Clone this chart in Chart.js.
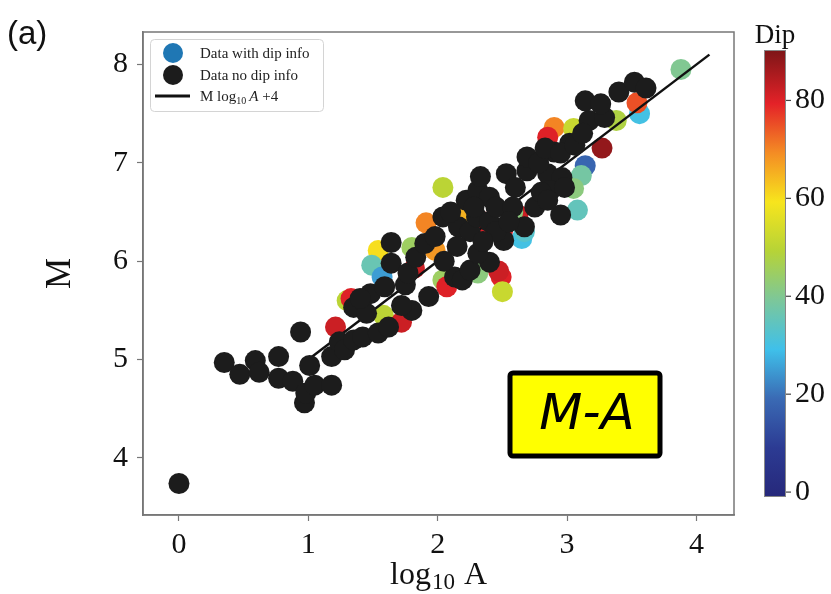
<!DOCTYPE html>
<html>
<head>
<meta charset="utf-8">
<script src="https://cdn.jsdelivr.net/npm/chart.js@4.4.1/dist/chart.umd.min.js"></script>
<style>
  html, body { margin: 0; padding: 0; background: #fff; }
</style>
</head>
<body>
<canvas id="myChart" width="831" height="594"></canvas>
<script>
// tick values
const xTicks = [0, 1, 2, 3, 4]
const yTicks = [4, 5, 6, 7, 8]
const dipTicks = [0, 20, 40, 60, 80]

// events without dip information (log10 A, M)
const blackLogA = [0.00, 0.35, 0.47, 0.59, 0.62, 0.77, 0.77, 0.88, 0.94, 1.01, 0.97, 0.98, 1.05, 1.18, 1.18,
    1.24, 1.28, 1.35, 1.42, 1.54, 1.62, 1.35, 1.45, 1.48, 1.59, 1.40, 1.64, 1.64, 1.75, 1.77, 1.80, 1.72,
    1.83, 1.90, 1.93, 1.98, 2.04, 2.13, 2.19, 2.25, 2.40, 2.31, 2.16, 2.25, 2.51, 2.67, 2.95, 2.22, 2.31,
    2.40, 2.53, 2.69, 2.69, 2.85, 2.96, 2.87, 2.90, 3.02, 3.17, 3.29, 3.14, 3.26, 3.40, 3.52, 3.61,
    2.10, 2.30, 2.40, 2.45, 2.58, 2.75, 2.80, 2.60, 2.45, 2.35, 2.55, 2.15, 2.05, 2.28, 2.78, 2.83, 2.95,
    3.06, 2.98, 2.85, 3.12, 2.33]
const blackM = [3.74, 4.97, 4.85, 4.99, 4.87, 5.03, 4.81, 4.78, 5.28, 4.94, 4.56, 4.66, 4.74, 4.74, 5.03,
    5.18, 5.10, 5.20, 5.23, 5.27, 5.33, 5.53, 5.47, 5.67, 5.74, 5.62, 5.98, 6.19, 5.76, 5.88, 5.50, 5.55,
    6.04, 6.18, 5.64, 6.25, 6.45, 5.84, 5.81, 5.91, 5.99, 6.08, 6.35, 6.30, 6.21, 6.35, 6.47, 6.62, 6.72,
    6.65, 6.89, 6.92, 7.06, 6.89, 6.85, 6.72, 7.11, 7.20, 7.43, 7.46, 7.63, 7.60, 7.72, 7.82, 7.76,
    6.50, 6.45, 6.40, 6.55, 6.55, 6.55, 6.70, 6.75, 6.30, 6.20, 6.40, 6.15, 6.00, 6.55, 7.00, 7.15, 7.10,
    7.18, 6.75, 6.62, 7.30, 6.86]

// events with dip information (log10 A, M, dip in degrees)
const dipLogA = [3.88, 3.56, 3.54, 3.27, 3.14, 3.11, 3.05, 3.08, 2.04, 2.90, 2.85, 3.05, 2.65, 2.67,
    2.49, 2.47, 2.50, 2.31, 2.04, 2.07, 1.91, 1.98, 1.54, 1.49, 1.57, 1.80, 1.82, 1.30, 1.33, 1.58,
    1.72, 1.21, 2.62, 2.58, 3.38, 2.35, 2.18, 2.50]
const dipM = [7.95, 7.50, 7.61, 7.15, 6.97, 6.87, 6.74, 6.52, 6.75, 7.36, 7.26, 7.35, 6.23, 6.30,
    5.84, 5.90, 5.69, 5.88, 5.81, 5.74, 6.39, 6.11, 6.11, 5.96, 5.84, 6.14, 5.93, 5.60, 5.62, 5.45,
    5.38, 5.33, 6.47, 6.50, 7.43, 6.40, 6.45, 6.30]
const dipValue = [40, 30, 75, 88, 18, 38, 42, 35, 50, 70, 80, 52, 30, 33,
    80, 82, 52, 42, 45, 80, 70, 68, 60, 36, 25, 45, 82, 50, 80, 50,
    82, 82, 82, 42, 48, 80, 65, 80]

// reference line M = log10 A + 4
const fitLogA = [1.0, 4.1]
const fitM = [5.0, 8.1]

const dipMin = -1
const dipMax = 90.3

// colour stops
const cmapStops = [
    [0.00, '#26287a'], [0.11, '#2c3b93'], [0.22, '#3a6ab4'], [0.33, '#3fc0ea'],
    [0.44, '#7cc79a'], [0.55, '#b6d337'], [0.66, '#f7e51d'], [0.77, '#f48c24'],
    [0.88, '#e42228'], [1.00, '#7d1517']
]

const hexToRgb = (h) => [1, 3, 5].map(i => parseInt(h.substr(i, 2), 16))

const dipColor = (d) => {
    let t = (d - dipMin) / (dipMax - dipMin)
    t = Math.max(0, Math.min(1, t))
    for (let i = 1; i < cmapStops.length; i++) {
        if (t <= cmapStops[i][0]) {
            const [t0, c0] = cmapStops[i - 1]
            const [t1, c1] = cmapStops[i]
            const f = (t - t0) / (t1 - t0)
            const a = hexToRgb(c0), b = hexToRgb(c1)
            const c = a.map((v, k) => Math.round(v + (b[k] - v) * f))
            return `rgb(${c[0]},${c[1]},${c[2]})`
        }
    }
    return cmapStops[cmapStops.length - 1][1]
}

const serif = '"Liberation Serif", "DejaVu Serif", serif'

const decorPlugin = {
    id: 'decor',
    afterDraw(chart) {
        const ctx = chart.ctx
        const dip = chart.scales.dip
        const area = chart.chartArea
        ctx.save()

        // full axes frame (top and right spines too)
        ctx.strokeStyle = '#777'
        ctx.lineWidth = 1.5
        ctx.strokeRect(area.left, area.top, area.right - area.left, area.bottom - area.top)

        // "(a)"
        ctx.fillStyle = '#111'
        ctx.font = '33px "Liberation Sans", Arial, sans-serif'
        ctx.textBaseline = 'alphabetic'
        ctx.textAlign = 'left'
        ctx.fillText('(a)', 7, 44)

        // x axis title with subscript
        const cx = (area.left + area.right) / 2
        const big = '32px ' + serif, small = '23px ' + serif
        ctx.font = big
        const w1 = ctx.measureText('log').width
        const w3 = ctx.measureText(' A').width
        ctx.font = small
        const w2 = ctx.measureText('10').width + 2
        let x0 = cx - (w1 + w2 + w3) / 2
        const base = 584
        ctx.font = big
        ctx.fillText('log', x0, base)
        ctx.font = small
        ctx.fillText('10', x0 + w1 + 1, base + 5)
        ctx.font = big
        ctx.fillText(' A', x0 + w1 + w2, base)

        // colour bar
        const barL = 764, barR = 786
        const yTop = dip.getPixelForValue(dipMax)
        const yBot = dip.getPixelForValue(dipMin)
        const grad = ctx.createLinearGradient(0, yBot, 0, yTop)
        cmapStops.forEach(([t, c]) => grad.addColorStop(t, c))
        ctx.fillStyle = grad
        ctx.fillRect(barL, yTop, barR - barL, yBot - yTop)
        ctx.strokeStyle = '#888'
        ctx.lineWidth = 1
        ctx.strokeRect(barL + 0.5, yTop + 0.5, barR - barL - 1, yBot - yTop - 1)
        ctx.strokeStyle = '#444'
        ctx.lineWidth = 1.2
        dipTicks.forEach(v => {
            const y = dip.getPixelForValue(v)
            ctx.beginPath()
            ctx.moveTo(barR, y)
            ctx.lineTo(barR + 5, y)
            ctx.stroke()
        })
        ctx.fillStyle = '#111'
        ctx.font = '27px ' + serif
        ctx.textAlign = 'center'
        ctx.fillText('Dip', 775, 43)

        // legend
        const lx = 150, ly = 39, lw = 173, lh = 72
        ctx.beginPath()
        ctx.roundRect(lx + 0.5, ly + 0.5, lw, lh, 4)
        ctx.fillStyle = 'rgba(255,255,255,0.85)'
        ctx.fill()
        ctx.strokeStyle = '#d4d4d4'
        ctx.lineWidth = 1
        ctx.stroke()

        ctx.fillStyle = '#1f77b4'
        ctx.beginPath(); ctx.arc(173, 53, 10, 0, Math.PI * 2); ctx.fill()
        ctx.fillStyle = '#1c1c1c'
        ctx.beginPath(); ctx.arc(173, 75, 10, 0, Math.PI * 2); ctx.fill()
        ctx.strokeStyle = '#111'
        ctx.lineWidth = 3
        ctx.beginPath(); ctx.moveTo(155, 96); ctx.lineTo(190, 96); ctx.stroke()

        ctx.fillStyle = '#222'
        ctx.textAlign = 'left'
        ctx.font = '15px ' + serif
        ctx.fillText('Data with dip info', 200, 58)
        ctx.fillText('Data no dip info', 200, 80)
        let tx = 200
        ctx.fillText('M log', tx, 101)
        tx += ctx.measureText('M log').width
        ctx.font = '10px ' + serif
        ctx.fillText('10', tx, 104)
        tx += ctx.measureText('10').width + 3
        ctx.font = 'italic 15px ' + serif
        ctx.fillText('A', tx, 101)
        tx += ctx.measureText('A').width
        ctx.font = '15px ' + serif
        ctx.fillText(' +4', tx, 101)

        // M-A label box
        ctx.beginPath()
        ctx.roundRect(510, 373, 150, 83, 3)
        ctx.fillStyle = '#ffff00'
        ctx.fill()
        ctx.strokeStyle = '#000'
        ctx.lineWidth = 5
        ctx.stroke()
        ctx.fillStyle = '#000'
        ctx.font = 'italic 50px "DejaVu Sans", sans-serif'
        ctx.textAlign = 'center'
        ctx.textBaseline = 'middle'
        ctx.fillText('M-A', 587, 416)

        ctx.restore()
    }
}

const fixedTicks = (vals) => (scale) => {
    scale.ticks = vals.map(v => ({ value: v }))
}

// pin the plot box: scales must not ask for extra room
const pinWidth = (w) => (s) => {
    s.width = w
    s.paddingTop = 0
    s.paddingBottom = 0
}
const pinHeight = (h) => (s) => {
    s.height = h
    s.paddingLeft = 0
    s.paddingRight = 0
}

const data = {
    datasets: [
        {
            label: 'Data no dip info',
            type: 'scatter',
            data: blackLogA.map((a, i) => ({ x: a, y: blackM[i] })),
            backgroundColor: '#1c1c1c',
            pointRadius: 10.5,
            borderWidth: 0,
            yAxisID: 'y'
        },
        {
            label: 'M log10 A +4',
            type: 'line',
            data: fitLogA.map((a, i) => ({ x: a, y: fitM[i] })),
            borderColor: '#111',
            borderWidth: 2.5,
            pointRadius: 0,
            fill: false,
            yAxisID: 'y'
        },
        {
            label: 'Data with dip info',
            type: 'scatter',
            data: dipLogA.map((a, i) => ({ x: a, y: dipM[i] })),
            backgroundColor: dipValue.map(dipColor),
            pointRadius: 10.5,
            borderWidth: 0,
            yAxisID: 'y'
        }
    ]
}

const config = {
    type: 'scatter',
    data: data,
    options: {
        responsive: false,
        animation: false,
        devicePixelRatio: 1,
        layout: { padding: { top: 32, left: 0, right: 0, bottom: 0 } },
        plugins: {
            legend: { display: false },
            tooltip: { enabled: false }
        },
        scales: {
            x: {
                type: 'linear',
                min: -0.278,
                max: 4.29,
                afterBuildTicks: fixedTicks(xTicks),
                afterFit: pinHeight(79),
                border: { color: '#777', width: 1.5 },
                grid: { drawOnChartArea: false, tickLength: 6, color: '#777', tickWidth: 1.2 },
                ticks: { font: { family: serif, size: 30 }, color: '#111', padding: 6, maxRotation: 0 }
            },
            y: {
                type: 'linear',
                position: 'left',
                min: 3.42,
                max: 8.33,
                afterBuildTicks: fixedTicks(yTicks),
                afterFit: pinWidth(143),
                border: { color: '#777', width: 1.5 },
                grid: { drawOnChartArea: false, tickLength: 6, color: '#777', tickWidth: 1.2 },
                ticks: { font: { family: serif, size: 30 }, color: '#111', padding: 9 },
                title: {
                    display: true,
                    text: 'M',
                    font: { family: serif, size: 35 },
                    color: '#111',
                    padding: { top: 40, bottom: 0 }
                }
            },
            dip: {
                type: 'linear',
                position: 'right',
                min: -4.68,
                max: 93.98,
                afterBuildTicks: fixedTicks(dipTicks),
                afterFit: pinWidth(97),
                border: { display: false },
                grid: { display: false, drawTicks: false },
                ticks: { font: { family: serif, size: 30 }, color: '#111', padding: 61 }
            }
        }
    },
    plugins: [decorPlugin]
}

const chart = new Chart(document.getElementById('myChart'), config)
</script>
</body>
</html>
